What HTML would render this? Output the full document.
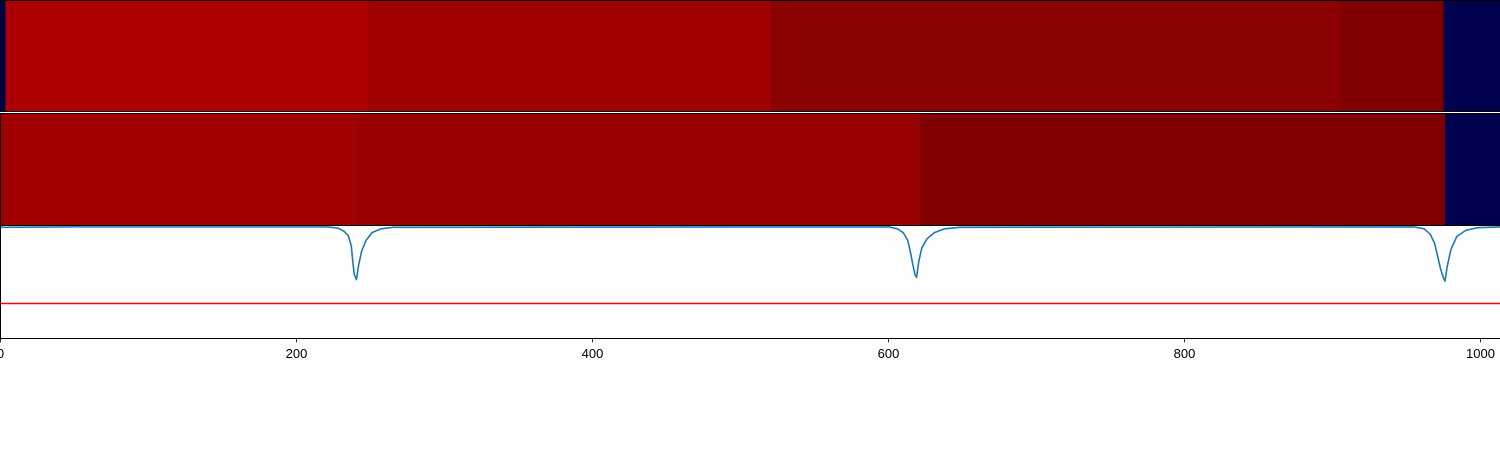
<!DOCTYPE html>
<html><head><meta charset="utf-8"><style>
body{margin:0;background:#fff;}
svg{display:block;font-family:"Liberation Sans","DejaVu Sans",sans-serif;}
</style></head><body>
<svg id="chart" width="1500" height="450"></svg>
<script>
const row1Edges=[0,3.4,248,520,905,975,1014];
const row1Colors=['#000050','#ae0000','#a10000','#8b0000','#7e0000','#000050'];
const row2Edges=[0,241,621,976,1014];
const row2Colors=['#a00000','#990000','#7f0000','#000050'];
const lineX=[0,50,220,228,232,235,237,238,239,240.5,242,244,247,251,257,265,600,606,610,613,615,616.5,618,619,620.5,622.5,626,631,638,648,955,962,966,969,971,973,975,976,977.5,980,984,990,998,1014];
const lineY=[-0.01,-0.005,-0.005,-0.02,-0.06,-0.12,-0.25,-0.45,-0.62,-0.69,-0.5,-0.32,-0.18,-0.08,-0.03,-0.01,-0.005,-0.03,-0.08,-0.18,-0.35,-0.5,-0.63,-0.66,-0.45,-0.28,-0.16,-0.08,-0.03,-0.01,-0.005,-0.03,-0.1,-0.22,-0.38,-0.55,-0.67,-0.71,-0.52,-0.3,-0.13,-0.05,-0.015,-0.005];
const thresholdY=[-1.0];
const xTicks=[0,200,400,600,800,1000];

const NS='http://www.w3.org/2000/svg';
const svg=document.getElementById('chart');
const X=v=>0.5+v*1.48;
const Y=v=>226.5-v*77;
function el(t,a){const e=document.createElementNS(NS,t);for(const k in a)e.setAttribute(k,a[k]);svg.appendChild(e);return e;}

for(let i=0;i<row1Colors.length;i++){
  const r=el('rect',{x:X(row1Edges[i]),y:0,width:X(row1Edges[i+1])-X(row1Edges[i])+0.3,height:112,fill:row1Colors[i]});
  
  
}
for(let i=0;i<row2Colors.length;i++){
  const r=el('rect',{x:X(row2Edges[i]),y:113,width:X(row2Edges[i+1])-X(row2Edges[i])+0.3,height:112.5,fill:row2Colors[i]});
  
  
}
let g=el('rect',{x:0,y:112,width:1500,height:1,fill:'#fff'});


const th=el('line',{x1:0,x2:1500,y1:Y(thresholdY[0]),y2:Y(thresholdY[0]),stroke:'#ff0000','stroke-width':1.6});



const pl=el('polyline',{points:lineX.map((v,i)=>X(v)+','+Y(lineY[i])).join(' '),fill:'none',stroke:'#1f77b4','stroke-width':1.6,'stroke-linejoin':'round'});



let f=el('rect',{x:0.5,y:0.5,width:1500,height:111,fill:'none',stroke:'#000','stroke-width':1});

f=el('rect',{x:0.5,y:113.5,width:1500,height:112,fill:'none',stroke:'#000','stroke-width':1});

f=el('rect',{x:0.5,y:225.5,width:1500,height:113,fill:'none',stroke:'#000','stroke-width':1});


xTicks.forEach(t=>{
  const l=el('line',{x1:X(t),x2:X(t),y1:338,y2:342.5,stroke:'#000','stroke-width':0.8});
  
  
  const tx=el('text',{x:X(t),y:358,'text-anchor':'middle','font-size':13,fill:'#000'});
  tx.textContent=t;
  
  
});
</script>
</body></html>
